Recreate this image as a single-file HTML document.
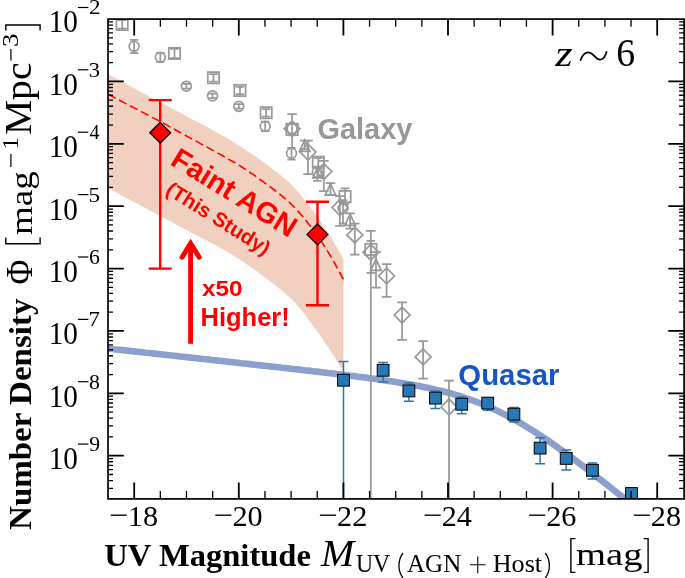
<!DOCTYPE html>
<html><head><meta charset="utf-8"><title>z~6 luminosity function</title>
<style>html,body{margin:0;padding:0;background:#fff}svg{display:block;will-change:transform}</style></head>
<body><svg width="685" height="578" viewBox="0 0 685 578">
<defs><clipPath id="ax"><rect x="108.0" y="19.1" width="576.1" height="479.8"/></clipPath></defs>
<rect width="685" height="578" fill="#fff"/>
<polygon points="108.1,74.1 111.0,75.7 114.0,77.4 117.0,79.0 120.0,80.6 123.0,82.2 125.9,83.8 128.9,85.4 131.9,87.1 134.9,88.7 137.9,90.3 140.8,91.9 143.8,93.5 146.8,95.1 149.8,96.7 152.8,98.3 155.7,99.9 158.7,101.5 161.7,103.1 164.7,104.7 167.7,106.3 170.6,107.8 173.6,109.4 176.6,111.0 179.6,112.6 182.6,114.2 185.5,115.7 188.5,117.3 191.5,118.9 194.5,120.4 197.5,122.0 200.4,123.5 203.4,125.1 206.4,126.7 209.4,128.3 212.4,129.9 215.3,131.5 218.3,133.2 221.3,134.9 224.3,136.6 227.3,138.3 230.2,140.1 233.2,141.9 236.2,143.7 239.2,145.6 242.2,147.5 245.1,149.4 248.1,151.4 251.1,153.4 254.1,155.4 257.1,157.5 260.0,159.6 263.0,161.8 266.0,164.0 269.0,166.2 272.0,168.5 275.0,170.7 277.9,173.0 280.9,175.4 283.9,177.9 286.9,180.6 289.9,183.3 292.8,186.3 295.8,189.4 298.8,192.8 301.8,196.3 304.8,200.0 307.7,203.9 310.7,207.8 313.7,211.9 316.7,216.0 319.7,220.2 322.6,224.6 325.6,229.1 328.6,233.8 331.6,238.6 334.6,243.6 337.5,248.6 340.5,253.8 343.4,259.0 343.4,371.6 340.5,366.8 337.5,361.9 334.6,357.1 331.6,352.5 328.6,347.9 325.6,343.4 322.6,339.1 319.7,334.8 316.7,330.7 313.7,326.6 310.7,322.5 307.7,318.5 304.8,314.6 301.8,310.8 298.8,307.2 295.8,303.8 292.8,300.6 289.9,297.6 286.9,294.9 283.9,292.2 280.9,289.8 277.9,287.4 275.0,285.1 272.0,282.8 269.0,280.6 266.0,278.3 263.0,276.1 260.0,273.8 257.1,271.6 254.1,269.4 251.1,267.3 248.1,265.2 245.1,263.1 242.2,261.1 239.2,259.2 236.2,257.3 233.2,255.4 230.2,253.6 227.3,251.9 224.3,250.1 221.3,248.5 218.3,246.8 215.3,245.1 212.4,243.5 209.4,241.9 206.4,240.3 203.4,238.7 200.4,237.2 197.5,235.7 194.5,234.2 191.5,232.7 188.5,231.1 185.5,229.6 182.6,228.0 179.6,226.4 176.6,224.8 173.6,223.2 170.6,221.6 167.7,220.0 164.7,218.4 161.7,216.8 158.7,215.2 155.7,213.6 152.8,212.0 149.8,210.4 146.8,208.8 143.8,207.2 140.8,205.7 137.9,204.1 134.9,202.5 131.9,200.9 128.9,199.3 125.9,197.7 123.0,196.0 120.0,194.4 117.0,192.8 114.0,191.2 111.0,189.6 108.1,188.0" fill="#f1d0bf"/>
<polyline points="108.0,348.5 110.9,348.8 113.8,349.2 116.7,349.5 119.6,349.8 122.5,350.1 125.4,350.4 128.3,350.7 131.2,351.1 134.1,351.4 137.0,351.7 139.9,352.0 142.7,352.3 145.6,352.7 148.5,353.0 151.4,353.3 154.3,353.6 157.2,353.9 160.1,354.2 163.0,354.6 165.9,354.9 168.8,355.2 171.7,355.5 174.5,355.8 177.4,356.1 180.3,356.5 183.2,356.8 186.1,357.1 189.0,357.4 191.9,357.7 194.8,358.1 197.7,358.4 200.6,358.7 203.5,359.0 206.3,359.3 209.2,359.6 212.1,360.0 215.0,360.3 217.9,360.6 220.8,360.9 223.7,361.2 226.6,361.6 229.5,361.9 232.4,362.2 235.3,362.5 238.1,362.8 241.0,363.2 243.9,363.5 246.8,363.8 249.7,364.1 252.6,364.4 255.5,364.8 258.4,365.1 261.3,365.4 264.2,365.7 267.1,366.0 269.9,366.4 272.8,366.7 275.7,367.0 278.6,367.3 281.5,367.7 284.4,368.0 287.3,368.3 290.2,368.6 293.1,369.0 296.0,369.3 298.9,369.6 301.7,369.9 304.6,370.3 307.5,370.6 310.4,370.9 313.3,371.3 316.2,371.6 319.1,371.9 322.0,372.3 324.9,372.6 327.8,373.0 330.7,373.3 333.5,373.6 336.4,374.0 339.3,374.3 342.2,374.7 345.1,375.1 348.0,375.4 350.9,375.8 353.8,376.1 356.7,376.5 359.6,376.9 362.5,377.2 365.3,377.6 368.2,378.0 371.1,378.4 374.0,378.8 376.9,379.2 379.8,379.6 382.7,380.0 385.6,380.4 388.5,380.9 391.4,381.3 394.3,381.8 397.1,382.2 400.0,382.7 402.9,383.2 405.8,383.7 408.7,384.2 411.6,384.7 414.5,385.2 417.4,385.7 420.3,386.3 423.2,386.9 426.1,387.5 428.9,388.1 431.8,388.7 434.7,389.4 437.6,390.1 440.5,390.8 443.4,391.5 446.3,392.2 449.2,393.0 452.1,393.8 455.0,394.7 457.9,395.5 460.7,396.4 463.6,397.3 466.5,398.3 469.4,399.3 472.3,400.3 475.2,401.4 478.1,402.5 481.0,403.7 483.9,404.8 486.8,406.1 489.7,407.3 492.5,408.6 495.4,409.9 498.3,411.3 501.2,412.7 504.1,414.2 507.0,415.7 509.9,417.2 512.8,418.8 515.7,420.4 518.6,422.0 521.5,423.7 524.3,425.4 527.2,427.2 530.1,429.0 533.0,430.8 535.9,432.6 538.8,434.5 541.7,436.4 544.6,438.3 547.5,440.3 550.4,442.3 553.3,444.3 556.1,446.3 559.0,448.4 561.9,450.5 564.8,452.5 567.7,454.7 570.6,456.8 573.5,458.9 576.4,461.1 579.3,463.3 582.2,465.5 585.1,467.7 587.9,469.9 590.8,472.1 593.7,474.4 596.6,476.6 599.5,478.9 602.4,481.1 605.3,483.4 608.2,485.7 611.1,488.0 614.0,490.3 616.9,492.6 619.7,494.9 622.6,497.2 625.5,499.5 628.4,501.8 631.3,504.2 634.2,506.5 637.1,508.8 640.0,511.2 642.9,513.5 645.8,515.9 648.7,518.2 651.5,520.6 654.4,522.9 657.3,525.3 660.2,527.7 663.1,530.0 666.0,532.4 668.9,534.7 671.8,537.1 674.7,539.5 677.6,541.8 680.5,544.2 683.3,546.6" fill="none" stroke="#8da0cd" stroke-width="6.6" stroke-linejoin="round" clip-path="url(#ax)"/>
<polyline points="108.1,94.3 111.0,95.9 114.0,97.4 117.0,99.0 120.0,100.5 123.0,102.1 125.9,103.6 128.9,105.2 131.9,106.7 134.9,108.3 137.9,109.8 140.8,111.4 143.8,112.9 146.8,114.5 149.8,116.0 152.8,117.6 155.7,119.1 158.7,120.7 161.7,122.3 164.7,123.9 167.7,125.6 170.6,127.2 173.6,128.9 176.6,130.5 179.6,132.2 182.6,133.8 185.5,135.5 188.5,137.1 191.5,138.7 194.5,140.3 197.5,141.9 200.4,143.6 203.4,145.2 206.4,146.8 209.4,148.4 212.4,150.1 215.3,151.7 218.3,153.4 221.3,155.0 224.3,156.7 227.3,158.4 230.2,160.1 233.2,161.8 236.2,163.6 239.2,165.4 242.2,167.3 245.1,169.2 248.1,171.2 251.1,173.2 254.1,175.2 257.1,177.3 260.0,179.5 263.0,181.6 266.0,183.8 269.0,186.0 272.0,188.2 275.0,190.5 277.9,192.8 280.9,195.1 283.9,197.6 286.9,200.2 289.9,202.9 292.8,205.8 295.8,208.9 298.8,212.1 301.8,215.5 304.8,219.1 307.7,222.8 310.7,226.6 313.7,230.6 316.7,234.7 319.7,238.9 322.6,243.4 325.6,248.0 328.6,252.9 331.6,257.9 334.6,263.1 337.5,268.5 340.5,274.0 343.4,279.5" fill="none" stroke="#ff0000" stroke-width="1.6" stroke-dasharray="8.4,4"/>
<g clip-path="url(#ax)">
<path d="M370.8 230.8V503.8M366.0 230.8h9.6" stroke="#999999" stroke-width="1.75" fill="none"/>
<path d="M449.0 380.5V503.8M444.2 380.5h9.6" stroke="#999999" stroke-width="1.75" fill="none"/>
<path d="M134.1 39.8V53.0M129.9 39.8h8.4M129.9 53.0h8.4" stroke="#999999" stroke-width="1.75" fill="none"/>
<circle cx="134.1" cy="46.3" r="4.95" fill="none" stroke="#999999" stroke-width="1.75"/>
<path d="M160.3 52.8V61.8M156.1 52.8h8.4M156.1 61.8h8.4" stroke="#999999" stroke-width="1.75" fill="none"/>
<circle cx="160.3" cy="57.3" r="4.95" fill="none" stroke="#999999" stroke-width="1.75"/>
<path d="M186.4 83.9V88.5M182.2 83.9h8.4M182.2 88.5h8.4" stroke="#999999" stroke-width="1.75" fill="none"/>
<circle cx="186.4" cy="86.2" r="4.95" fill="none" stroke="#999999" stroke-width="1.75"/>
<path d="M212.5 93.6V98.2M208.3 93.6h8.4M208.3 98.2h8.4" stroke="#999999" stroke-width="1.75" fill="none"/>
<circle cx="212.5" cy="95.9" r="4.95" fill="none" stroke="#999999" stroke-width="1.75"/>
<path d="M238.8 104.0V108.6M234.6 104.0h8.4M234.6 108.6h8.4" stroke="#999999" stroke-width="1.75" fill="none"/>
<circle cx="238.8" cy="106.3" r="4.95" fill="none" stroke="#999999" stroke-width="1.75"/>
<path d="M265.2 121.5V131.1M261.0 121.5h8.4M261.0 131.1h8.4" stroke="#999999" stroke-width="1.75" fill="none"/>
<circle cx="265.2" cy="126.3" r="4.95" fill="none" stroke="#999999" stroke-width="1.75"/>
<path d="M291.5 147.8V159.5M287.3 147.8h8.4M287.3 159.5h8.4" stroke="#999999" stroke-width="1.75" fill="none"/>
<circle cx="291.5" cy="153.3" r="4.95" fill="none" stroke="#999999" stroke-width="1.75"/>
<path d="M317.3 167.0V180.8M313.1 167.0h8.4M313.1 180.8h8.4" stroke="#999999" stroke-width="1.75" fill="none"/>
<circle cx="317.3" cy="172.4" r="4.95" fill="none" stroke="#999999" stroke-width="1.75"/>
<path d="M343.0 200.0V223.7M338.8 200.0h8.4M338.8 223.7h8.4" stroke="#999999" stroke-width="1.75" fill="none"/>
<circle cx="343.0" cy="208.3" r="4.95" fill="none" stroke="#999999" stroke-width="1.75"/>
<path d="M122.2 20.2V28.6M117.9 20.2h8.6M117.9 28.6h8.6" stroke="#999999" stroke-width="1.75" fill="none"/>
<rect x="116.5" y="18.8" width="11.3" height="11.3" fill="none" stroke="#999999" stroke-width="1.75"/>
<path d="M174.5 48.9V58.0M170.2 48.9h8.6M170.2 58.0h8.6" stroke="#999999" stroke-width="1.75" fill="none"/>
<rect x="168.8" y="47.8" width="11.3" height="11.3" fill="none" stroke="#999999" stroke-width="1.75"/>
<path d="M213.5 74.0V81.7M209.2 74.0h8.6M209.2 81.7h8.6" stroke="#999999" stroke-width="1.75" fill="none"/>
<rect x="207.8" y="72.1" width="11.3" height="11.3" fill="none" stroke="#999999" stroke-width="1.75"/>
<path d="M240.0 86.8V94.2M235.7 86.8h8.6M235.7 94.2h8.6" stroke="#999999" stroke-width="1.75" fill="none"/>
<rect x="234.3" y="84.8" width="11.3" height="11.3" fill="none" stroke="#999999" stroke-width="1.75"/>
<path d="M266.1 109.0V116.6M261.8 109.0h8.6M261.8 116.6h8.6" stroke="#999999" stroke-width="1.75" fill="none"/>
<rect x="260.5" y="107.1" width="11.3" height="11.3" fill="none" stroke="#999999" stroke-width="1.75"/>
<path d="M318.3 158.0V166.5M314.0 158.0h8.6M314.0 166.5h8.6" stroke="#999999" stroke-width="1.75" fill="none"/>
<rect x="312.7" y="156.5" width="11.3" height="11.3" fill="none" stroke="#999999" stroke-width="1.75"/>
<path d="M345.0 188.3V204.0M340.7 188.3h8.6M340.7 204.0h8.6" stroke="#999999" stroke-width="1.75" fill="none"/>
<rect x="339.4" y="190.9" width="11.3" height="11.3" fill="none" stroke="#999999" stroke-width="1.75"/>
<path d="M370.8 240.8V272.8M366.5 240.8h8.6M366.5 272.8h8.6" stroke="#999999" stroke-width="1.75" fill="none"/>
<rect x="365.2" y="243.8" width="11.3" height="11.3" fill="none" stroke="#999999" stroke-width="1.75"/>
<path d="M292.1 114.1V147.5M287.3 114.1h9.6" stroke="#999999" stroke-width="1.75" fill="none"/>
<rect x="286.3" y="123.6" width="11.6" height="11.6" fill="none" stroke="#999999" stroke-width="1.75"/>
<circle cx="292.1" cy="128.8" r="4.95" fill="none" stroke="#999999" stroke-width="1.75"/>
<path d="M284.3 128.7l7.8 -7.8l7.8 7.8l-7.8 7.8z" fill="none" stroke="#999999" stroke-width="1.75"/>
<path d="M304.7 140.5V149.0M299.9 140.5h9.6M299.9 149.0h9.6" stroke="#999999" stroke-width="1.75" fill="none"/>
<path d="M304.7 140.2L309.9 151.4L299.5 151.4z" fill="none" stroke="#999999" stroke-width="1.75"/>
<path d="M318.0 167.0V177.5M313.2 167.0h9.6M313.2 177.5h9.6" stroke="#999999" stroke-width="1.75" fill="none"/>
<path d="M318.0 166.7L323.2 177.9L312.8 177.9z" fill="none" stroke="#999999" stroke-width="1.75"/>
<path d="M330.5 183.2V195.0M325.7 183.2h9.6M325.7 195.0h9.6" stroke="#999999" stroke-width="1.75" fill="none"/>
<path d="M330.5 183.8L335.7 195.0L325.3 195.0z" fill="none" stroke="#999999" stroke-width="1.75"/>
<path d="M350.1 213.4V228.5M345.3 213.4h9.6M345.3 228.5h9.6" stroke="#999999" stroke-width="1.75" fill="none"/>
<path d="M350.1 214.2L355.3 225.4L344.9 225.4z" fill="none" stroke="#999999" stroke-width="1.75"/>
<path d="M376.0 252.0V287.7M371.2 252.0h9.6M371.2 287.7h9.6" stroke="#999999" stroke-width="1.75" fill="none"/>
<path d="M376.0 259.2L381.2 270.4L370.8 270.4z" fill="none" stroke="#999999" stroke-width="1.75"/>
<path d="M308.0 140.5V174.0M303.2 140.5h9.6M303.2 174.0h9.6" stroke="#999999" stroke-width="1.75" fill="none"/>
<path d="M300.1 152.1l7.9 -7.9l7.9 7.9l-7.9 7.9z" fill="none" stroke="#999999" stroke-width="1.75"/>
<path d="M323.8 160.8V191.0M319.0 160.8h9.6M319.0 191.0h9.6" stroke="#999999" stroke-width="1.75" fill="none"/>
<path d="M315.9 171.5l7.9 -7.9l7.9 7.9l-7.9 7.9z" fill="none" stroke="#999999" stroke-width="1.75"/>
<path d="M339.9 196.0V225.9M335.1 196.0h9.6M335.1 225.9h9.6" stroke="#999999" stroke-width="1.75" fill="none"/>
<path d="M332.0 207.5l7.9 -7.9l7.9 7.9l-7.9 7.9z" fill="none" stroke="#999999" stroke-width="1.75"/>
<path d="M354.8 223.7V254.6M350.0 223.7h9.6M350.0 254.6h9.6" stroke="#999999" stroke-width="1.75" fill="none"/>
<path d="M346.9 235.0l7.9 -7.9l7.9 7.9l-7.9 7.9z" fill="none" stroke="#999999" stroke-width="1.75"/>
<path d="M362.9 252.3l7.9 -7.9l7.9 7.9l-7.9 7.9z" fill="none" stroke="#999999" stroke-width="1.75"/>
<path d="M386.6 264.0V296.9M381.8 264.0h9.6M381.8 296.9h9.6" stroke="#999999" stroke-width="1.75" fill="none"/>
<path d="M378.7 275.9l7.9 -7.9l7.9 7.9l-7.9 7.9z" fill="none" stroke="#999999" stroke-width="1.75"/>
<path d="M402.1 302.3V339.8M397.3 302.3h9.6M397.3 339.8h9.6" stroke="#999999" stroke-width="1.75" fill="none"/>
<path d="M394.2 315.1l7.9 -7.9l7.9 7.9l-7.9 7.9z" fill="none" stroke="#999999" stroke-width="1.75"/>
<path d="M423.1 341.1V378.5M418.3 341.1h9.6M418.3 378.5h9.6" stroke="#999999" stroke-width="1.75" fill="none"/>
<path d="M415.2 356.9l7.9 -7.9l7.9 7.9l-7.9 7.9z" fill="none" stroke="#999999" stroke-width="1.75"/>
<path d="M441.1 407.0l7.9 -7.9l7.9 7.9l-7.9 7.9z" fill="none" stroke="#999999" stroke-width="1.75"/>
<path d="M343.5 361.6V504.8M338.6 361.6h9.8M338.6 504.8h9.8" stroke="#2777b5" stroke-width="1.50" fill="none"/>
<path d="M383.1 362.5V382.0M378.2 362.5h9.8M378.2 382.0h9.8" stroke="#2777b5" stroke-width="1.50" fill="none"/>
<path d="M408.9 383.0V401.2M404.0 383.0h9.8M404.0 401.2h9.8" stroke="#2777b5" stroke-width="1.50" fill="none"/>
<path d="M435.4 390.9V408.4M430.5 390.9h9.8M430.5 408.4h9.8" stroke="#2777b5" stroke-width="1.50" fill="none"/>
<path d="M461.7 397.0V413.8M456.8 397.0h9.8M456.8 413.8h9.8" stroke="#2777b5" stroke-width="1.50" fill="none"/>
<path d="M487.7 398.0V410.3M482.8 398.0h9.8M482.8 410.3h9.8" stroke="#2777b5" stroke-width="1.50" fill="none"/>
<path d="M513.9 407.5V422.0M509.0 407.5h9.8M509.0 422.0h9.8" stroke="#2777b5" stroke-width="1.50" fill="none"/>
<path d="M540.1 437.8V463.7M535.2 437.8h9.8M535.2 463.7h9.8" stroke="#2777b5" stroke-width="1.50" fill="none"/>
<path d="M566.2 450.1V469.9M561.3 450.1h9.8M561.3 469.9h9.8" stroke="#2777b5" stroke-width="1.50" fill="none"/>
<path d="M592.4 463.0V479.0M587.5 463.0h9.8M587.5 479.0h9.8" stroke="#2777b5" stroke-width="1.50" fill="none"/>
<path d="M631.5 488.0V504.8M626.6 488.0h9.8M626.6 504.8h9.8" stroke="#2777b5" stroke-width="1.50" fill="none"/>
<rect x="337.6" y="374.3" width="11.8" height="11.8" fill="#2777b5" stroke="#000" stroke-width="1"/>
<rect x="377.2" y="364.4" width="11.8" height="11.8" fill="#2777b5" stroke="#000" stroke-width="1"/>
<rect x="403.0" y="385.0" width="11.8" height="11.8" fill="#2777b5" stroke="#000" stroke-width="1"/>
<rect x="429.5" y="392.2" width="11.8" height="11.8" fill="#2777b5" stroke="#000" stroke-width="1"/>
<rect x="455.8" y="398.3" width="11.8" height="11.8" fill="#2777b5" stroke="#000" stroke-width="1"/>
<rect x="481.8" y="397.2" width="11.8" height="11.8" fill="#2777b5" stroke="#000" stroke-width="1"/>
<rect x="508.0" y="408.3" width="11.8" height="11.8" fill="#2777b5" stroke="#000" stroke-width="1"/>
<rect x="534.2" y="442.2" width="11.8" height="11.8" fill="#2777b5" stroke="#000" stroke-width="1"/>
<rect x="560.3" y="452.5" width="11.8" height="11.8" fill="#2777b5" stroke="#000" stroke-width="1"/>
<rect x="586.5" y="464.4" width="11.8" height="11.8" fill="#2777b5" stroke="#000" stroke-width="1"/>
<rect x="625.6" y="487.6" width="11.8" height="11.8" fill="#2777b5" stroke="#000" stroke-width="1"/>
</g>
<path d="M160.2 100.1V268.6M148.7 100.1h23M148.7 268.6h23" stroke="#ff0000" stroke-width="2.4" fill="none"/>
<path d="M317.5 201.8V305.3M306.0 201.8h23M306.0 305.3h23" stroke="#ff0000" stroke-width="2.4" fill="none"/>
<path d="M149.8 132.8l10.4 -10.4l10.4 10.4l-10.4 10.4z" fill="#ff0000" stroke="#000" stroke-width="1.3"/>
<path d="M307.1 234.4l10.4 -10.4l10.4 10.4l-10.4 10.4z" fill="#ff0000" stroke="#000" stroke-width="1.3"/>
<path d="M190.6 343.8V246" stroke="#ff0000" stroke-width="4.9" fill="none"/>
<path d="M182 257.2L190.6 243.4L199.2 257.2" stroke="#ff0000" stroke-width="5" fill="none" stroke-linejoin="miter" stroke-miterlimit="10" stroke-linecap="round"/>
<rect x="108.0" y="19.1" width="576.1" height="479.8" fill="none" stroke="#000" stroke-width="1.7"/>
<path d="M160.35 498.8v-7.7M160.35 19.1v7.7M186.50 498.8v-7.7M186.50 19.1v7.7M212.65 498.8v-7.7M212.65 19.1v7.7M264.95 498.8v-7.7M264.95 19.1v7.7M291.10 498.8v-7.7M291.10 19.1v7.7M317.25 498.8v-7.7M317.25 19.1v7.7M369.55 498.8v-7.7M369.55 19.1v7.7M395.70 498.8v-7.7M395.70 19.1v7.7M421.85 498.8v-7.7M421.85 19.1v7.7M474.15 498.8v-7.7M474.15 19.1v7.7M500.30 498.8v-7.7M500.30 19.1v7.7M526.45 498.8v-7.7M526.45 19.1v7.7M578.75 498.8v-7.7M578.75 19.1v7.7M604.90 498.8v-7.7M604.90 19.1v7.7M631.05 498.8v-7.7M631.05 19.1v7.7M108.0 488.33h5M684.1 488.33h-5M108.0 480.53h5M684.1 480.53h-5M108.0 474.49h5M684.1 474.49h-5M108.0 469.55h5M684.1 469.55h-5M108.0 465.37h5M684.1 465.37h-5M108.0 461.76h5M684.1 461.76h-5M108.0 458.56h5M684.1 458.56h-5M108.0 436.93h5M684.1 436.93h-5M108.0 425.95h5M684.1 425.95h-5M108.0 418.15h5M684.1 418.15h-5M108.0 412.11h5M684.1 412.11h-5M108.0 407.17h5M684.1 407.17h-5M108.0 402.99h5M684.1 402.99h-5M108.0 399.38h5M684.1 399.38h-5M108.0 396.18h5M684.1 396.18h-5M108.0 374.55h5M684.1 374.55h-5M108.0 363.57h5M684.1 363.57h-5M108.0 355.77h5M684.1 355.77h-5M108.0 349.73h5M684.1 349.73h-5M108.0 344.79h5M684.1 344.79h-5M108.0 340.61h5M684.1 340.61h-5M108.0 337.00h5M684.1 337.00h-5M108.0 333.80h5M684.1 333.80h-5M108.0 312.17h5M684.1 312.17h-5M108.0 301.19h5M684.1 301.19h-5M108.0 293.39h5M684.1 293.39h-5M108.0 287.35h5M684.1 287.35h-5M108.0 282.41h5M684.1 282.41h-5M108.0 278.23h5M684.1 278.23h-5M108.0 274.62h5M684.1 274.62h-5M108.0 271.42h5M684.1 271.42h-5M108.0 249.79h5M684.1 249.79h-5M108.0 238.81h5M684.1 238.81h-5M108.0 231.01h5M684.1 231.01h-5M108.0 224.97h5M684.1 224.97h-5M108.0 220.03h5M684.1 220.03h-5M108.0 215.85h5M684.1 215.85h-5M108.0 212.24h5M684.1 212.24h-5M108.0 209.04h5M684.1 209.04h-5M108.0 187.41h5M684.1 187.41h-5M108.0 176.43h5M684.1 176.43h-5M108.0 168.63h5M684.1 168.63h-5M108.0 162.59h5M684.1 162.59h-5M108.0 157.65h5M684.1 157.65h-5M108.0 153.47h5M684.1 153.47h-5M108.0 149.86h5M684.1 149.86h-5M108.0 146.66h5M684.1 146.66h-5M108.0 125.03h5M684.1 125.03h-5M108.0 114.05h5M684.1 114.05h-5M108.0 106.25h5M684.1 106.25h-5M108.0 100.21h5M684.1 100.21h-5M108.0 95.27h5M684.1 95.27h-5M108.0 91.09h5M684.1 91.09h-5M108.0 87.48h5M684.1 87.48h-5M108.0 84.28h5M684.1 84.28h-5M108.0 62.65h5M684.1 62.65h-5M108.0 51.67h5M684.1 51.67h-5M108.0 43.87h5M684.1 43.87h-5M108.0 37.83h5M684.1 37.83h-5M108.0 32.89h5M684.1 32.89h-5M108.0 28.71h5M684.1 28.71h-5M108.0 25.10h5M684.1 25.10h-5M108.0 21.90h5M684.1 21.90h-5" stroke="#000" stroke-width="1.3" fill="none"/>
<path d="M134.20 498.8v-16.4M134.20 19.1v16.4M238.80 498.8v-16.4M238.80 19.1v16.4M343.40 498.8v-16.4M343.40 19.1v16.4M448.00 498.8v-16.4M448.00 19.1v16.4M552.60 498.8v-16.4M552.60 19.1v16.4M657.20 498.8v-16.4M657.20 19.1v16.4M108.0 455.71h15.8M684.1 455.71h-15.8M108.0 393.33h15.8M684.1 393.33h-15.8M108.0 330.95h15.8M684.1 330.95h-15.8M108.0 268.57h15.8M684.1 268.57h-15.8M108.0 206.19h15.8M684.1 206.19h-15.8M108.0 143.81h15.8M684.1 143.81h-15.8M108.0 81.43h15.8M684.1 81.43h-15.8" stroke="#000" stroke-width="1.8" fill="none"/>
<path d="M110.7 515.2h16.1" stroke="#000" stroke-width="1.35"/>
<text x="127.8" y="525.8" style="font-family:'Liberation Serif',serif;font-size:30.2px">18</text>
<path d="M215.3 515.2h16.1" stroke="#000" stroke-width="1.35"/>
<text x="232.5" y="525.8" style="font-family:'Liberation Serif',serif;font-size:30.2px">20</text>
<path d="M319.9 515.2h16.1" stroke="#000" stroke-width="1.35"/>
<text x="337.1" y="525.8" style="font-family:'Liberation Serif',serif;font-size:30.2px">22</text>
<path d="M424.6 515.2h16.1" stroke="#000" stroke-width="1.35"/>
<text x="441.7" y="525.8" style="font-family:'Liberation Serif',serif;font-size:30.2px">24</text>
<path d="M529.1 515.2h16.1" stroke="#000" stroke-width="1.35"/>
<text x="546.2" y="525.8" style="font-family:'Liberation Serif',serif;font-size:30.2px">26</text>
<path d="M633.8 515.2h16.1" stroke="#000" stroke-width="1.35"/>
<text x="650.8" y="525.8" style="font-family:'Liberation Serif',serif;font-size:30.2px">28</text>
<text transform="translate(48.74,469.11) scale(0.9584,1)" style="font-family:'Liberation Serif',serif;font-size:30.53px">10</text>
<path d="M77.9 444.1h10.5" stroke="#000" stroke-width="1.2"/>
<text transform="translate(89.19,451.11) scale(1.0369,1)" style="font-family:'Liberation Serif',serif;font-size:20.98px">9</text>
<text transform="translate(48.74,406.73) scale(0.9584,1)" style="font-family:'Liberation Serif',serif;font-size:30.53px">10</text>
<path d="M77.9 381.7h10.5" stroke="#000" stroke-width="1.2"/>
<text transform="translate(89.08,388.73) scale(1.0469,1)" style="font-family:'Liberation Serif',serif;font-size:20.90px">8</text>
<text transform="translate(48.74,344.35) scale(0.9584,1)" style="font-family:'Liberation Serif',serif;font-size:30.53px">10</text>
<path d="M77.9 319.4h10.5" stroke="#000" stroke-width="1.2"/>
<text transform="translate(88.42,326.35) scale(1.0754,1)" style="font-family:'Liberation Serif',serif;font-size:21.22px">7</text>
<text transform="translate(48.74,281.97) scale(0.9584,1)" style="font-family:'Liberation Serif',serif;font-size:30.53px">10</text>
<path d="M77.9 257.0h10.5" stroke="#000" stroke-width="1.2"/>
<text transform="translate(88.98,263.97) scale(1.0369,1)" style="font-family:'Liberation Serif',serif;font-size:20.98px">6</text>
<text transform="translate(48.74,219.59) scale(0.9584,1)" style="font-family:'Liberation Serif',serif;font-size:30.53px">10</text>
<path d="M77.9 194.6h10.5" stroke="#000" stroke-width="1.2"/>
<text transform="translate(88.57,201.59) scale(1.0888,1)" style="font-family:'Liberation Serif',serif;font-size:21.22px">5</text>
<text transform="translate(48.74,157.21) scale(0.9584,1)" style="font-family:'Liberation Serif',serif;font-size:30.53px">10</text>
<path d="M77.9 132.2h10.5" stroke="#000" stroke-width="1.2"/>
<text transform="translate(89.50,139.21) scale(0.9460,1)" style="font-family:'Liberation Serif',serif;font-size:21.14px">4</text>
<text transform="translate(48.74,94.83) scale(0.9584,1)" style="font-family:'Liberation Serif',serif;font-size:30.53px">10</text>
<path d="M77.9 69.8h10.5" stroke="#000" stroke-width="1.2"/>
<text transform="translate(88.83,76.83) scale(1.0746,1)" style="font-family:'Liberation Serif',serif;font-size:20.98px">3</text>
<text transform="translate(48.74,32.45) scale(0.9584,1)" style="font-family:'Liberation Serif',serif;font-size:30.53px">10</text>
<path d="M77.9 7.5h10.5" stroke="#000" stroke-width="1.2"/>
<text transform="translate(88.92,14.45) scale(1.1013,1)" style="font-family:'Liberation Serif',serif;font-size:20.98px">2</text>
<text transform="translate(317.44,138.57) scale(0.9956,1)" style="font-family:'Liberation Sans',sans-serif;font-weight:bold;font-size:29.06px" fill="#989898">Galaxy</text>
<text transform="translate(458.32,385.40) scale(0.9669,1)" style="font-family:'Liberation Sans',sans-serif;font-weight:bold;font-size:30.39px" fill="#1455c8">Quasar</text>
<text transform="translate(202.02,296.20) scale(1.1189,1)" style="font-family:'Liberation Sans',sans-serif;font-weight:bold;font-size:21.79px" fill="#ff0000">x50</text>
<text transform="translate(200.48,326.00) scale(0.9939,1)" style="font-family:'Liberation Sans',sans-serif;font-weight:bold;font-size:25.66px" fill="#ff0000">Higher!</text>
<text transform="translate(169.0,164.0) rotate(31.6)" style="font-family:'Liberation Sans',sans-serif;font-size:29.1px;font-weight:bold" fill="#ff0000">Faint AGN</text>
<text transform="translate(164.4,193.1) rotate(32)" style="font-family:'Liberation Sans',sans-serif;font-size:20.5px;font-weight:bold" fill="#ff0000">(This Study)</text>
<text transform="translate(555.26,65.70) scale(1.2297,1)" style="font-family:'Liberation Serif',serif;font-style:italic;font-size:36.30px">z</text>
<path d="M580.6 60.2C583.5 51.5 589.5 50.2 594 55.6S603.8 61.8 606.6 51.8" fill="none" stroke="#000" stroke-width="1.7" stroke-linecap="round"/>
<text transform="translate(616.19,66.00) scale(0.9403,1)" style="font-family:'Liberation Serif',serif;font-size:40.30px">6</text>
<text transform="translate(104.29,565.80) scale(1.0586,1)" style="font-family:'Liberation Serif',serif;font-weight:bold;font-size:30.79px">UV Magnitude</text>
<text transform="translate(321.10,565.80) scale(1.0451,1)" style="font-family:'Liberation Serif',serif;font-style:italic;font-size:38.17px">M</text>
<text transform="translate(355.93,571.90) scale(0.9530,1)" style="font-family:'Liberation Serif',serif;font-size:24.89px">UV</text>
<text transform="translate(407.05,571.90) scale(0.9922,1)" style="font-family:'Liberation Serif',serif;font-size:25.21px">AGN</text>
<text transform="translate(492.68,571.90) scale(1.0262,1)" style="font-family:'Liberation Serif',serif;font-size:25.50px">Host</text>
<text transform="translate(576.03,565.08) scale(1.2547,1)" style="font-family:'Liberation Serif',serif;font-size:30.79px">mag</text>
<path d="M469.9 564.7h15.7M477.75 556.4v16.8" stroke="#000" stroke-width="1.1" fill="none"/>
<path d="M403 553C397.6 560 397.6 571 403 578M545.3 553C550.7 560 550.7 571 545.3 578" stroke="#000" stroke-width="1.3" fill="none"/>
<path d="M575.4 538.6h-4.5v33.8h4.5M643.6 538.6h4.5v33.8h-4.5" stroke="#000" stroke-width="1.4" fill="none"/>
<text transform="translate(0,529.3) rotate(-90) translate(-0.66,31.20) scale(1.0437,1)" style="font-family:'Liberation Serif',serif;font-weight:bold;font-size:31.65px">Number Density</text>
<text transform="translate(0,529.3) rotate(-90) translate(244.68,32.10) scale(0.8952,1)" style="font-family:'Liberation Serif',serif;font-size:38.02px">Φ</text>
<text transform="translate(0,529.3) rotate(-90) translate(294.26,32.08) scale(1.1512,1)" style="font-family:'Liberation Serif',serif;font-size:32.16px">mag</text>
<text transform="translate(0,529.3) rotate(-90) translate(394.21,31.14) scale(1.0703,1)" style="font-family:'Liberation Serif',serif;font-size:37.00px">Mpc</text>
<text transform="translate(0,529.3) rotate(-90) translate(379.57,18.10) scale(1.1014,1)" style="font-family:'Liberation Serif',serif;font-size:23.18px">1</text>
<text transform="translate(0,529.3) rotate(-90) translate(482.22,18.10) scale(1.1652,1)" style="font-family:'Liberation Serif',serif;font-size:23.09px">3</text>
<g transform="translate(0,529.3) rotate(-90)"><path d="M362.4 10.9h13M468.7 10.9h11.7" stroke="#000" stroke-width="1.2"/>
<path d="M291.8 5.8h-6.3v34.3h6.3M498.7 5.8h5.6v34.3h-5.6" stroke="#000" stroke-width="1.4" fill="none"/></g>
</svg></body></html>
